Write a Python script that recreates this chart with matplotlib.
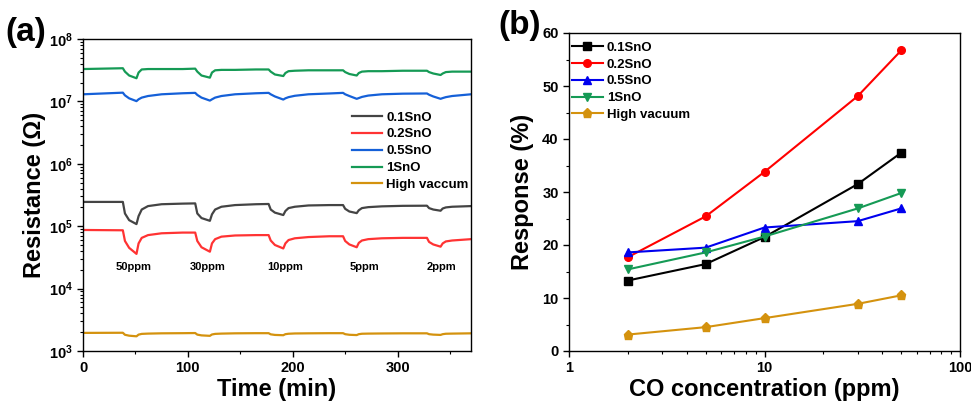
import numpy as np
import matplotlib
matplotlib.use("Agg")
import matplotlib.pyplot as plt
from matplotlib.ticker import LogLocator, MultipleLocator, NullFormatter, FixedLocator

plt.rcParams['font.family'] = ['Liberation Sans', 'DejaVu Sans']
plt.rcParams['font.weight'] = 'bold'
plt.rcParams['mathtext.default'] = 'bf'

# ---- panel (a) data: resistance vs time ----
time_min = [0,
            38, 40, 44, 51, 53, 56, 62, 75, 95,
            107, 109, 113, 121, 123, 126, 132, 145, 165,
            177, 179, 183, 191, 193, 196, 202, 215, 235,
            248, 250, 254, 261, 263, 266, 272, 285, 305,
            328, 330, 334, 341, 343, 346, 352, 370]

r_01 = [2.45e5,
        2.45e5, 1.6e5, 1.25e5, 1.08e5, 1.45e5, 1.85e5, 2.1e5, 2.25e5, 2.3e5,
        2.32e5, 1.6e5, 1.35e5, 1.22e5, 1.55e5, 1.85e5, 2.05e5, 2.18e5, 2.25e5,
        2.27e5, 1.85e5, 1.65e5, 1.51e5, 1.75e5, 1.95e5, 2.05e5, 2.15e5, 2.18e5,
        2.18e5, 1.9e5, 1.72e5, 1.62e5, 1.8e5, 1.95e5, 2.02e5, 2.08e5, 2.12e5,
        2.13e5, 1.95e5, 1.85e5, 1.77e5, 1.92e5, 2.0e5, 2.05e5, 2.1e5]

r_02 = [8.7e4,
        8.6e4, 5.8e4, 4.5e4, 3.6e4, 5.3e4, 6.5e4, 7.2e4, 7.7e4, 7.9e4,
        7.9e4, 5.8e4, 4.6e4, 3.9e4, 5.3e4, 6.2e4, 6.8e4, 7.1e4, 7.2e4,
        7.2e4, 5.9e4, 5.0e4, 4.4e4, 5.3e4, 6.0e4, 6.4e4, 6.7e4, 6.9e4,
        6.9e4, 5.8e4, 5.1e4, 4.6e4, 5.4e4, 5.9e4, 6.2e4, 6.4e4, 6.5e4,
        6.5e4, 5.6e4, 5.1e4, 4.7e4, 5.3e4, 5.7e4, 5.9e4, 6.2e4]

r_05 = [1.3e7,
        1.38e7, 1.25e7, 1.12e7, 1.01e7, 1.08e7, 1.15e7, 1.22e7, 1.3e7, 1.35e7,
        1.37e7, 1.27e7, 1.15e7, 1.03e7, 1.08e7, 1.15e7, 1.22e7, 1.3e7, 1.35e7,
        1.37e7, 1.3e7, 1.2e7, 1.07e7, 1.12e7, 1.17e7, 1.23e7, 1.3e7, 1.34e7,
        1.37e7, 1.3e7, 1.22e7, 1.1e7, 1.13e7, 1.18e7, 1.24e7, 1.3e7, 1.33e7,
        1.34e7, 1.28e7, 1.2e7, 1.1e7, 1.13e7, 1.17e7, 1.22e7, 1.3e7]

r_1 = [3.3e7,
       3.4e7, 3.0e7, 2.6e7, 2.35e7, 2.9e7, 3.25e7, 3.3e7, 3.3e7, 3.3e7,
       3.35e7, 3.0e7, 2.6e7, 2.4e7, 2.9e7, 3.15e7, 3.2e7, 3.2e7, 3.25e7,
       3.25e7, 3.0e7, 2.7e7, 2.55e7, 2.85e7, 3.05e7, 3.1e7, 3.15e7, 3.15e7,
       3.15e7, 2.95e7, 2.75e7, 2.6e7, 2.85e7, 3.0e7, 3.05e7, 3.05e7, 3.1e7,
       3.1e7, 2.95e7, 2.8e7, 2.65e7, 2.8e7, 2.95e7, 3.0e7, 3.0e7]

r_hv = [1.95e3,
        1.96e3, 1.82e3, 1.76e3, 1.72e3, 1.83e3, 1.88e3, 1.9e3, 1.92e3, 1.93e3,
        1.94e3, 1.83e3, 1.78e3, 1.75e3, 1.84e3, 1.88e3, 1.9e3, 1.92e3, 1.93e3,
        1.93e3, 1.85e3, 1.81e3, 1.79e3, 1.86e3, 1.89e3, 1.91e3, 1.92e3, 1.93e3,
        1.93e3, 1.86e3, 1.82e3, 1.8e3, 1.86e3, 1.89e3, 1.9e3, 1.91e3, 1.92e3,
        1.92e3, 1.86e3, 1.83e3, 1.81e3, 1.86e3, 1.89e3, 1.9e3, 1.92e3]

ppm_labels = ["50ppm", "30ppm", "10ppm", "5ppm", "2ppm"]
ppm_time = [48, 119, 193, 268, 342]

labels_a = ["0.1SnO", "0.2SnO", "0.5SnO", "1SnO", "High vaccum"]
colors_a = ["#444444", "#ff3333", "#1560d8", "#159a55", "#d4920e"]

# ---- panel (b) data: response vs CO concentration ----
conc = [2, 5, 10, 30, 50]
resp_01 = [13.3, 16.4, 21.5, 31.5, 37.4]
resp_02 = [17.7, 25.4, 33.8, 48.1, 56.7]
resp_05 = [18.6, 19.5, 23.3, 24.5, 26.9]
resp_1 = [15.4, 18.6, 21.6, 26.9, 29.8]
resp_hv = [3.1, 4.5, 6.2, 8.9, 10.5]

labels_b = ["0.1SnO", "0.2SnO", "0.5SnO", "1SnO", "High vacuum"]
colors_b = ["#000000", "#ff0000", "#0000ee", "#159a55", "#d4920e"]
markers_b = ["s", "o", "^", "v", "p"]

fig = plt.figure(figsize=(9.71, 4.08), dpi=100)

# panel (a)
ax1 = fig.add_axes([83 / 971, 57 / 408, 388 / 971, 312 / 408])
for r, lab, c in zip([r_01, r_02, r_05, r_1, r_hv], labels_a, colors_a):
    ax1.plot(time_min, r, color=c, lw=1.6, label=lab)
ax1.set_yscale("log")
ax1.set_xlim(0, 370)
ax1.set_ylim(1e3, 1e8)
ax1.xaxis.set_major_locator(MultipleLocator(100))
ax1.xaxis.set_minor_locator(MultipleLocator(50))
ax1.yaxis.set_major_locator(LogLocator(base=10, numticks=10))
ax1.yaxis.set_minor_locator(LogLocator(base=10, subs=np.arange(2, 10), numticks=10))
ax1.yaxis.set_minor_formatter(NullFormatter())
for t, lab in zip(ppm_time, ppm_labels):
    ax1.text(t, 2.2e4, lab, ha="center", va="center", fontsize=8, fontweight="bold")
ax1.set_xlabel("Time (min)", fontsize=17, fontweight="bold", labelpad=2)
ax1.set_ylabel("Resistance (Ω)", fontsize=17, fontweight="bold", labelpad=2)
ax1.legend(loc="upper left", bbox_to_anchor=(0.68, 0.785), frameon=False, fontsize=9.5,
           handlelength=2.3, handletextpad=0.3, labelspacing=0.35, borderaxespad=0)
fig.text(0.006, 0.958, "(a)", fontsize=24, fontweight="bold", va="top")

# panel (b)
ax2 = fig.add_axes([569 / 971, 57 / 408, 391 / 971, 318 / 408])
for y, lab, c, m in zip([resp_01, resp_02, resp_05, resp_1, resp_hv], labels_b, colors_b, markers_b):
    ax2.plot(conc, y, color=c, lw=1.5, marker=m, ms=5.5 if m != "p" else 6.5, label=lab)
ax2.set_xscale("log")
ax2.set_xlim(1, 100)
ax2.set_ylim(0, 60)
ax2.yaxis.set_major_locator(MultipleLocator(10))
ax2.yaxis.set_minor_locator(MultipleLocator(5))
ax2.xaxis.set_major_locator(FixedLocator([1, 10, 100]))
ax2.set_xticklabels(["1", "10", "100"])
ax2.xaxis.set_minor_locator(LogLocator(base=10, subs=np.arange(2, 10), numticks=10))
ax2.xaxis.set_minor_formatter(NullFormatter())
ax2.set_xlabel("CO concentration (ppm)", fontsize=17, fontweight="bold", labelpad=2)
ax2.set_ylabel("Response (%)", fontsize=17, fontweight="bold", labelpad=6)
ax2.legend(loc="upper left", bbox_to_anchor=(-0.005, 0.99), frameon=False, fontsize=9.5,
           handlelength=2.3, handletextpad=0.3, labelspacing=0.35, borderaxespad=0)
fig.text(0.513, 0.975, "(b)", fontsize=24, fontweight="bold", va="top")

for ax in (ax1, ax2):
    ax.tick_params(which="both", direction="out", top=False, right=False, labelsize=10.5)
    ax.tick_params(which="major", length=4, width=1)
    ax.tick_params(which="minor", length=2.5, width=0.8)
    for lbl in ax.get_xticklabels() + ax.get_yticklabels():
        lbl.set_fontweight("bold")
    for s in ax.spines.values():
        s.set_linewidth(1)

fig.savefig("out.png", dpi=100)
